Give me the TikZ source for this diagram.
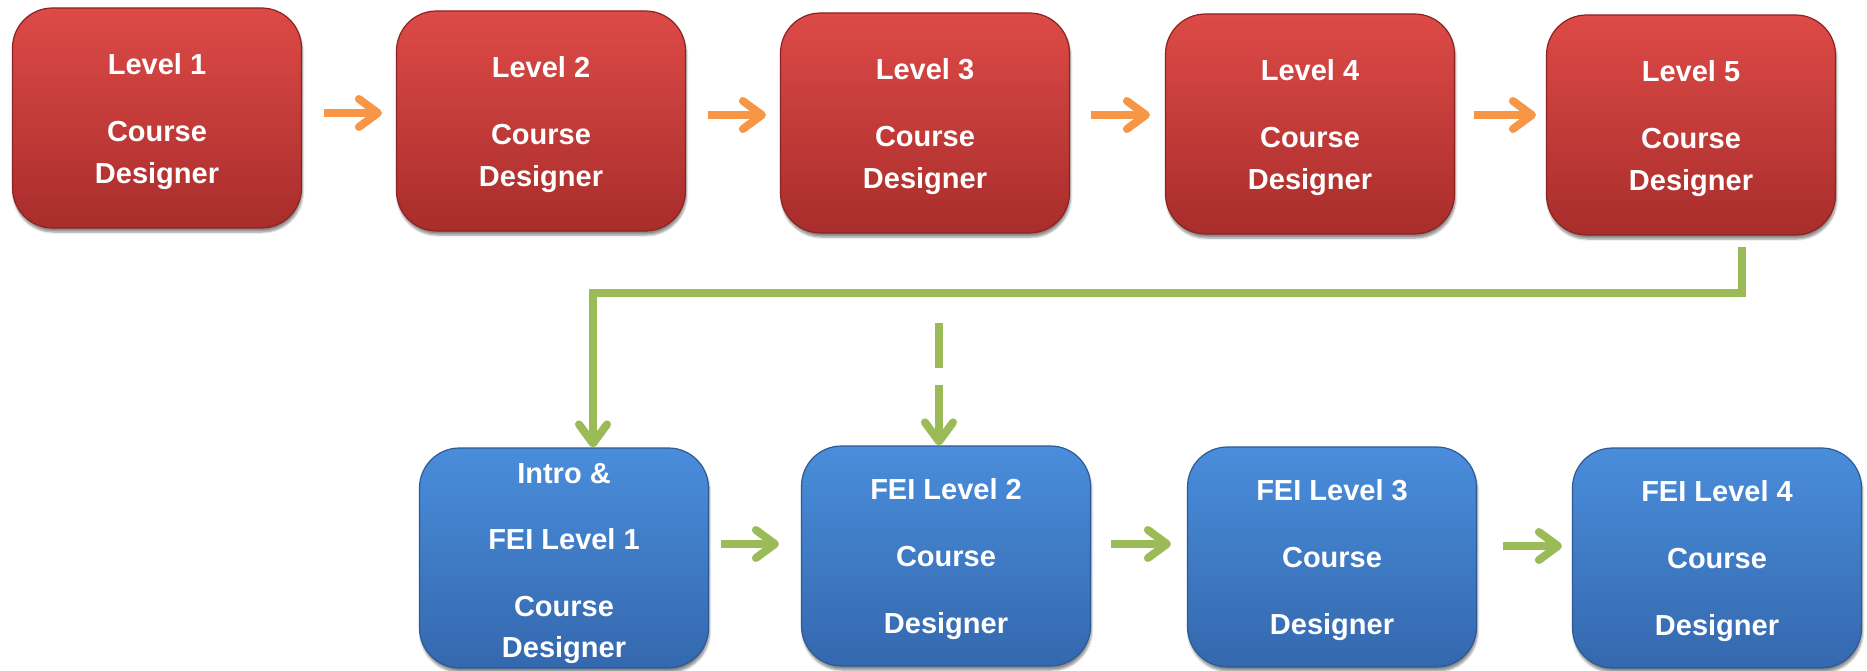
\documentclass[tikz,border=0pt]{standalone}
\usepackage{fontspec}
\setmainfont{Liberation Sans}
\usetikzlibrary{arrows.meta,shadows.blur,calc}
\definecolor{redtop}{RGB}{221,74,71}
\definecolor{redbot}{RGB}{168,45,43}
\definecolor{redline}{RGB}{140,35,33}
\definecolor{bluetop}{RGB}{74,141,219}
\definecolor{bluebot}{RGB}{52,104,174}
\definecolor{blueline}{RGB}{45,90,150}
\definecolor{oarr}{RGB}{247,150,70}
\definecolor{garr}{RGB}{155,187,89}
\newcommand{\lift}[1]{\rule{0pt}{#1}}
\tikzset{
  box/.style={rounded corners=40pt, minimum width=289pt, minimum height=220pt,
    inner sep=0pt, align=center, text=white, line width=1.2pt,
    font=\fontsize{29}{34}\selectfont\bfseries,
    blur shadow={shadow xshift=1pt, shadow yshift=-4pt, shadow opacity=45, shadow blur steps=6}},
  redbox/.style={box, draw=redline, top color=redtop, bottom color=redbot},
  bluebox/.style={box, draw=blueline, top color=bluetop, bottom color=bluebot},
  oarrow/.style={draw=oarr, line width=8pt, -{Straight Barb[round, length=19pt, width=28pt]}},
  garrow/.style={draw=garr, line width=8pt, -{Straight Barb[round, length=19pt, width=28pt]}},
}
\begin{document}
\begin{tikzpicture}[x=1pt, y=-1pt]
\useasboundingbox (0,0) rectangle (1867,671);
\node[redbox] (r1) at (157,118) {\lift{28pt}Level 1\\[33pt]Course\\[8pt]Designer};
\node[redbox] (r2) at (541,121) {\lift{28pt}Level 2\\[33pt]Course\\[8pt]Designer};
\node[redbox] (r3) at (925,123) {\lift{28pt}Level 3\\[33pt]Course\\[8pt]Designer};
\node[redbox] (r4) at (1310,124) {\lift{28pt}Level 4\\[33pt]Course\\[8pt]Designer};
\node[redbox] (r5) at (1691,125) {\lift{28pt}Level 5\\[33pt]Course\\[8pt]Designer};
\node[bluebox] (b1) at (564,558) {\lift{31pt}Intro \&\\[32pt]FEI Level 1\\[33pt]Course\\[7pt]Designer};
\node[bluebox] (b2) at (946,556) {\lift{27pt}FEI Level 2\\[33pt]Course\\[33pt]Designer};
\node[bluebox] (b3) at (1332,557) {\lift{27pt}FEI Level 3\\[33pt]Course\\[33pt]Designer};
\node[bluebox] (b4) at (1717,558) {\lift{27pt}FEI Level 4\\[33pt]Course\\[33pt]Designer};
% orange arrows
\draw[oarrow] ($(r1.east)+(22,-5)$) -- ($(r2.west)+(-14,-8)$);
\draw[oarrow] ($(r2.east)+(22,-6)$) -- ($(r3.west)+(-14,-8)$);
\draw[oarrow] ($(r3.east)+(21,-8)$) -- ($(r4.west)+(-15,-9)$);
\draw[oarrow] ($(r4.east)+(19,-9)$) -- ($(r5.west)+(-10,-10)$);
% green arrows
\draw[garrow] ($(b1.east)+(12,-14)$) -- ($(b2.west)+(-22,-12)$);
\draw[garrow] ($(b2.east)+(20,-12)$) -- ($(b3.west)+(-16,-13)$);
\draw[garrow] ($(b3.east)+(26,-11)$) -- ($(b4.west)+(-10,-12)$);
% connector from level 5 to FEI level 1
\coordinate (c0) at (1742,247);
\coordinate (c1) at (1742,293);
\coordinate (c2) at (593,293);
\draw[garrow, line join=miter] (c0) -- (c1) -- (c2) -- (b1.north -| c2);
% dashed arrow
\coordinate (d0) at (939,323);
\draw[garrow, dash pattern=on 45pt off 17pt on 300pt] (d0) -- (b2.north -| d0);
\end{tikzpicture}
\end{document}
